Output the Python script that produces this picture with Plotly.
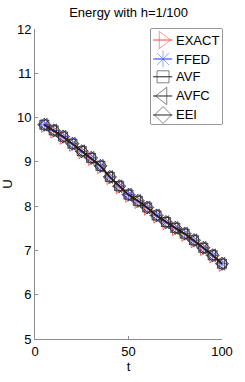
import plotly.graph_objects as go

# ---- data ----
t = [5, 10, 15, 20, 25, 30, 35, 40, 45, 50, 55, 60, 65, 70, 75, 80, 85, 90, 95, 100]
U_num = [9.84, 9.71, 9.57, 9.41, 9.24, 9.09, 8.91, 8.66, 8.45, 8.26, 8.12, 7.97,
         7.79, 7.64, 7.51, 7.38, 7.23, 7.06, 6.89, 6.70]
U_exact = [9.81, 9.68, 9.54, 9.38, 9.21, 9.06, 8.88, 8.63, 8.42, 8.23, 8.09, 7.94,
           7.76, 7.61, 7.48, 7.35, 7.20, 7.03, 6.86, 6.67]

series_names = ["EXACT", "FFED", "AVF", "AVFC", "EEI"]
series_values = [U_exact, U_num, U_num, U_num, U_num]
series_colors = ["#ff4040", "#4060ff", "#222222", "#222222", "#222222"]
series_symbols = ["triangle-right-open", "asterisk-open", "square-open",
                  "triangle-left-open", "diamond-open"]
data_sizes = [11, 11, 9, 11, 10]
legend_sizes = [15, 14, 12, 15, 13]
line_widths = [1, 1, 1.3, 1.3, 1.3]

x_ticks = [0, 50, 100]
y_ticks = [5, 6, 7, 8, 9, 10, 11, 12]

FONT = "Liberation Sans, Arial, Helvetica, sans-serif"
AX = "#8c8c8c"

fig = go.Figure()

for name, vals, col, sym, sz, lw in zip(series_names, series_values, series_colors,
                                        series_symbols, data_sizes, line_widths):
    fig.add_trace(go.Scatter(
        x=t, y=vals, mode="lines+markers", name=name, showlegend=False,
        line=dict(color=col, width=lw),
        marker=dict(symbol=sym, size=sz, color=col, line=dict(color=col, width=0.8)),
        xaxis="x", yaxis="y", cliponaxis=False))

# ---- legend (drawn on an overlay axis inside the box) ----
leg_y = [0.884, 0.684, 0.497, 0.295, 0.095]
for name, col, sym, sz, yc in zip(series_names, series_colors, series_symbols,
                                   legend_sizes, leg_y):
    fig.add_trace(go.Scatter(
        x=[0.03, 0.17, 0.30], y=[yc, yc, yc], mode="lines+markers", showlegend=False,
        line=dict(color=col, width=1),
        marker=dict(symbol=sym, size=[0, sz, 0], color=col,
                    line=dict(color=col, width=0.8)),
        xaxis="x2", yaxis="y2", hoverinfo="skip"))
    fig.add_annotation(x=0.325, y=yc, xref="x2", yref="y2", text=name,
                       showarrow=False, xanchor="left", yanchor="middle",
                       font=dict(family=FONT, size=13, color="black"))

lx0, lx1 = 0.620, 1.0
ly0, ly1 = 0.6935, 1.0
fig.add_shape(type="rect", xref="paper", yref="paper", x0=lx0, x1=lx1, y0=ly0, y1=ly1,
              line=dict(color="#333333", width=1), fillcolor="white", layer="below")

fig.update_layout(
    width=245, height=382,
    margin=dict(l=35, r=23, t=29, b=43, autoexpand=False),
    paper_bgcolor="white", plot_bgcolor="white",
    title=dict(text="Energy with h=1/100", x=0.525, xanchor="center", y=0.968,
               yanchor="middle", automargin=False,
               font=dict(family=FONT, size=13, color="black")),
    font=dict(family=FONT, size=13, color="black"),
    xaxis=dict(range=[0, 100], tickvals=x_ticks, ticks="inside", ticklen=3,
               tickcolor=AX, showline=True, linecolor=AX, linewidth=1,
               showgrid=False, zeroline=False, mirror=False, automargin=False,
               title=dict(text="t", standoff=0, font=dict(size=13)),
               tickfont=dict(size=13, color="black")),
    yaxis=dict(range=[5, 12], tickvals=y_ticks, ticks="inside", ticklen=3,
               tickcolor=AX, showline=True, linecolor=AX, linewidth=1,
               showgrid=False, zeroline=False, mirror=False, automargin=False,
               title=dict(text="U", standoff=4, font=dict(size=13)),
               tickfont=dict(size=13, color="black")),
    xaxis2=dict(domain=[lx0, lx1], range=[0, 1], anchor="y2", visible=False,
                fixedrange=True),
    yaxis2=dict(domain=[ly0, ly1], range=[0, 1], anchor="x2", visible=False,
                fixedrange=True),
)

fig.write_html("out.html", config={"displayModeBar": False},
               post_script="document.body.style.margin='0';document.body.style.overflow='hidden';")
